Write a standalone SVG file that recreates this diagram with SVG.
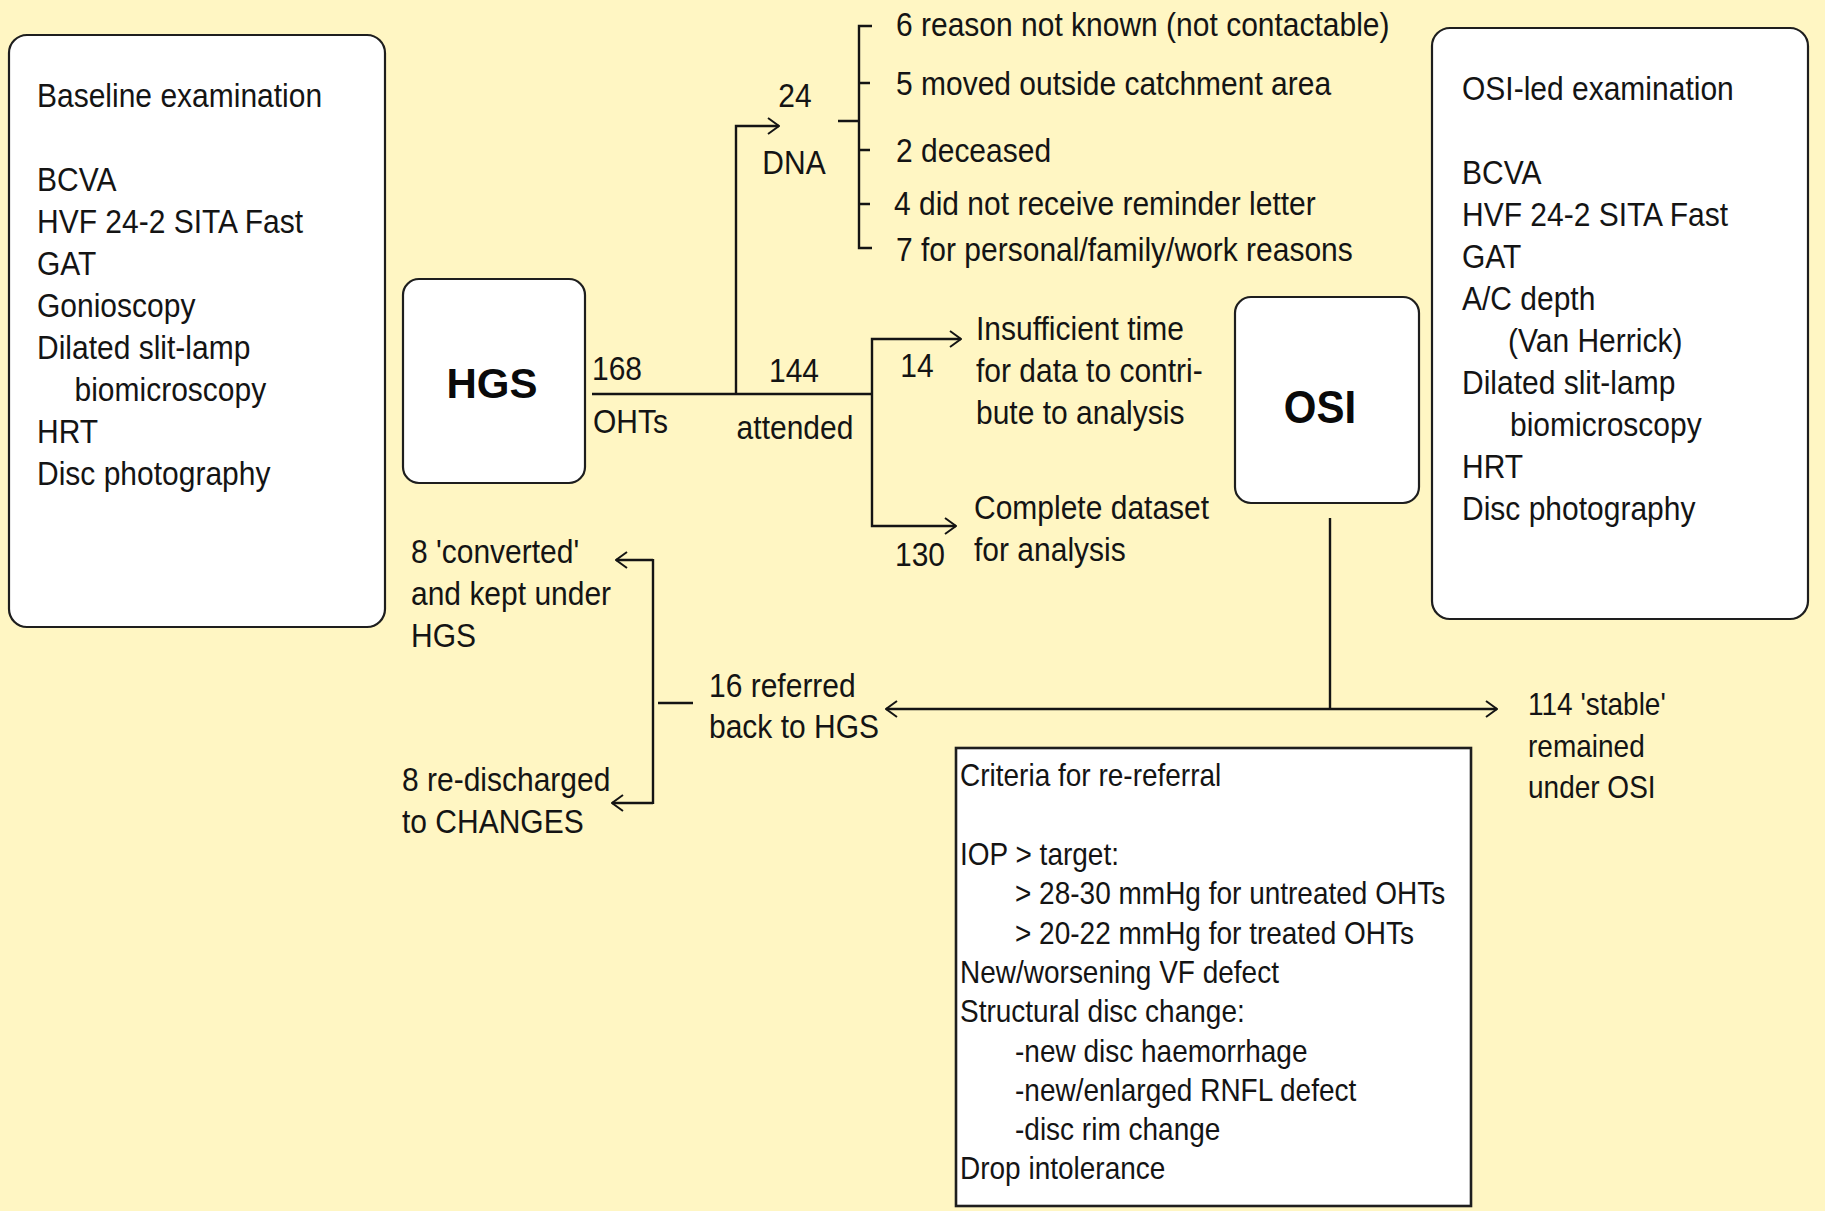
<svg xmlns="http://www.w3.org/2000/svg" width="1825" height="1211" viewBox="0 0 1825 1211">
<defs>
<style>
.t{font-family:"Liberation Sans",Arial,sans-serif;font-size:30px;fill:#141414}
.s{font-size:28px}
.b{font-family:"Liberation Sans",Arial,sans-serif;font-size:42px;font-weight:bold;fill:#0a0a0a;text-anchor:middle}
.box{fill:#ffffff;stroke:#1e1e1e;stroke-width:2.2}
.ln{fill:none;stroke:#141414;stroke-width:2.4}
.ar{marker-end:url(#arr)}
</style>
<marker id="arr" viewBox="0 0 14 20" refX="13" refY="10" markerWidth="14" markerHeight="20" markerUnits="userSpaceOnUse" orient="auto">
<path d="M2,2 L13,10 L2,18" fill="none" stroke="#141414" stroke-width="2"/>
</marker>
</defs>
<rect width="1825" height="1211" fill="#fff6c3"/>

<g id="baseline">
<rect class="box" x="9" y="35" width="376" height="592" rx="18"/>
<text class="t" transform="translate(37,107) scale(1,1.12)"><tspan x="0" y="0">Baseline examination</tspan><tspan x="0" y="75">BCVA</tspan><tspan x="0" y="112.5">HVF 24-2 SITA Fast</tspan><tspan x="0" y="150">GAT</tspan><tspan x="0" y="187.5">Gonioscopy</tspan><tspan x="0" y="225">Dilated slit-lamp</tspan><tspan x="37.5" y="262.5">biomicroscopy</tspan><tspan x="0" y="300">HRT</tspan><tspan x="0" y="337.5">Disc photography</tspan></text>
</g>

<g id="hgs">
<rect class="box" x="403" y="279" width="182" height="204" rx="16"/>
<text class="b" x="492" y="398">HGS</text>
</g>

<g id="osi">
<rect class="box" x="1235" y="297" width="184" height="206" rx="16"/>
<text class="b" transform="translate(1320,423) scale(1,1.1)">OSI</text>
</g>

<g id="osiled">
<rect class="box" x="1432" y="28" width="376" height="591" rx="18"/>
<text class="t" transform="translate(1462,100) scale(1,1.12)"><tspan x="0" y="0">OSI-led examination</tspan><tspan x="0" y="75">BCVA</tspan><tspan x="0" y="112.5">HVF 24-2 SITA Fast</tspan><tspan x="0" y="150">GAT</tspan><tspan x="0" y="187.5">A/C depth</tspan><tspan x="46" y="225">(Van Herrick)</tspan><tspan x="0" y="262.5">Dilated slit-lamp</tspan><tspan x="48" y="300">biomicroscopy</tspan><tspan x="0" y="337.5">HRT</tspan><tspan x="0" y="375">Disc photography</tspan></text>
</g>

<g id="criteria">
<rect x="956" y="748" width="515" height="458" fill="#ffffff" stroke="#1e1e1e" stroke-width="2.6"/>
<text class="t s" transform="translate(960,786) scale(1,1.12)"><tspan x="0" y="0">Criteria for re-referral</tspan><tspan x="0" y="70.5">IOP &gt; target:</tspan><tspan x="55" y="105.6">&gt; 28-30 mmHg for untreated OHTs</tspan><tspan x="55" y="140.7">&gt; 20-22 mmHg for treated OHTs</tspan><tspan x="0" y="175.8">New/worsening VF defect</tspan><tspan x="0" y="210.9">Structural disc change:</tspan><tspan x="55" y="246">-new disc haemorrhage</tspan><tspan x="55" y="281.1">-new/enlarged RNFL defect</tspan><tspan x="55" y="316.2">-disc rim change</tspan><tspan x="0" y="351.3">Drop intolerance</tspan></text>
</g>

<g id="connectors">
<path class="ln" d="M592,394 H873"/>
<path class="ln ar" d="M736,394 V126 H779"/>
<path class="ln" d="M838,121 H859 M872,26 H859 V248 H872 M859,83 H870 M859,150 H870 M859,204 H870"/>
<path class="ln ar" d="M872,394 V339 H961"/>
<path class="ln ar" d="M872,394 V526 H956"/>
<path class="ln" d="M1330,518 V709"/>
<path class="ln ar" d="M1330,709 H1497"/>
<path class="ln ar" d="M1330,709 H886"/>
<path class="ln" d="M658,703 H693"/>
<path class="ln ar" d="M653,560 H616"/>
<path class="ln" d="M653,559 V804"/>
<path class="ln ar" d="M653,803 H612"/>
</g>

<g id="labels">
<text class="t" transform="translate(592,380) scale(1,1.12)">168</text>
<text class="t" transform="translate(593,433) scale(1,1.12)">OHTs</text>
<text class="t" text-anchor="middle" transform="translate(794,382) scale(1,1.12)">144</text>
<text class="t" text-anchor="middle" transform="translate(795,439) scale(1,1.12)">attended</text>
<text class="t" text-anchor="middle" transform="translate(795,107) scale(1,1.12)">24</text>
<text class="t" text-anchor="middle" transform="translate(794,174) scale(1,1.12)">DNA</text>
<text class="t" transform="translate(896,36) scale(1,1.12)">6 reason not known (not contactable)</text>
<text class="t" transform="translate(896,95) scale(1,1.12)">5 moved outside catchment area</text>
<text class="t" transform="translate(896,162) scale(1,1.12)">2 deceased</text>
<text class="t" transform="translate(894,215) scale(1,1.12)">4 did not receive reminder letter</text>
<text class="t" transform="translate(896,261) scale(1,1.12)">7 for personal/family/work reasons</text>
<text class="t" text-anchor="middle" transform="translate(917,377) scale(1,1.12)">14</text>
<text class="t" text-anchor="middle" transform="translate(920,566) scale(1,1.12)">130</text>
<text class="t" transform="translate(976,340) scale(1,1.12)"><tspan x="0" y="0">Insufficient time</tspan><tspan x="0" y="37.5">for data to contri-</tspan><tspan x="0" y="75">bute to analysis</tspan></text>
<text class="t" transform="translate(974,519) scale(1,1.12)"><tspan x="0" y="0">Complete dataset</tspan><tspan x="0" y="37.5">for analysis</tspan></text>
<text class="t" transform="translate(411,563) scale(1,1.12)"><tspan x="0" y="0">8 'converted'</tspan><tspan x="0" y="37.5">and kept under</tspan><tspan x="0" y="75">HGS</tspan></text>
<text class="t" transform="translate(709,697) scale(1,1.12)"><tspan x="0" y="0">16 referred</tspan><tspan x="0" y="36.6">back to HGS</tspan></text>
<text class="t" transform="translate(402,791) scale(1,1.12)"><tspan x="0" y="0">8 re-discharged</tspan><tspan x="0" y="37.5">to CHANGES</tspan></text>
<text class="t s" transform="translate(1528,715) scale(1,1.12)"><tspan x="0" y="0">114 'stable'</tspan><tspan x="0" y="37.5">remained</tspan><tspan x="0" y="74.5">under OSI</tspan></text>
</g>
</svg>
